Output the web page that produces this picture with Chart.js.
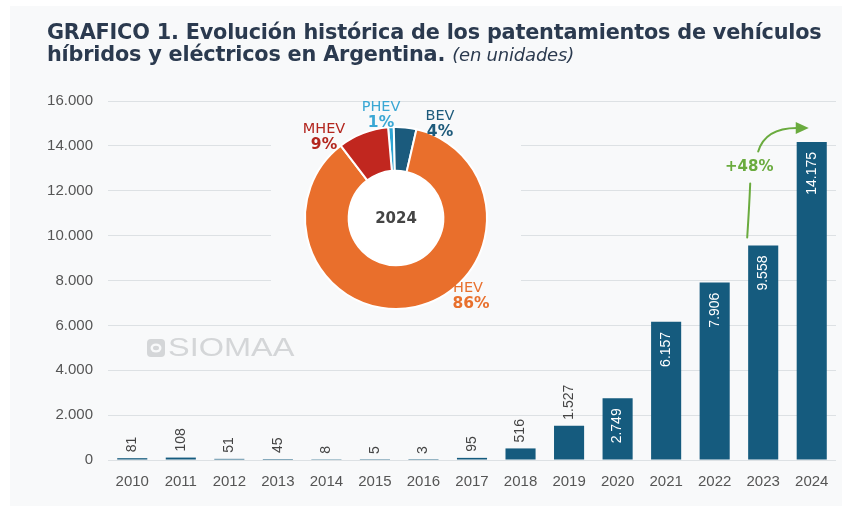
<!DOCTYPE html>
<html>
<head>
<meta charset="utf-8">
<script src="https://cdn.jsdelivr.net/npm/chart.js@4.4.1/dist/chart.umd.min.js"></script>
<style>
  html, body { margin: 0; padding: 0; background: #ffffff; }
  #wrap { position: relative; width: 844px; height: 512px; overflow: hidden; background: #ffffff; }
  #panel { position: absolute; left: 10px; top: 6px; width: 832px; height: 500px; background: #f8f9fa; }
  #title { position: absolute; left: 47px; top: 21px; font-family: "DejaVu Sans", Verdana, sans-serif; font-weight: bold;
           font-size: 20.8px; line-height: 22px; color: #2b3a4f; white-space: nowrap; letter-spacing: -0.2px; }
  #title i { font-weight: normal; font-size: 18px; }
  #bar { position: absolute; left: 0; top: 0; }
  #pie { position: absolute; left: 271px; top: 98px; }
</style>
</head>
<body>
<div id="wrap">
  <div id="panel"></div>
  <canvas id="bar" width="844" height="512"></canvas>
  <canvas id="pie" width="250" height="218"></canvas>
  <div id="title">GRAFICO 1. Evolución histórica de los patentamientos de vehículos<br>híbridos y eléctricos en Argentina. <i>(en unidades)</i></div>
</div>
<script>
// ---- data ----
const years = ["2010","2011","2012","2013","2014","2015","2016","2017","2018","2019","2020","2021","2022","2023","2024"];
const registrations = [81, 108, 51, 45, 8, 5, 3, 95, 516, 1527, 2749, 6157, 7906, 9558, 14175];
const yTicks = [0, 2000, 4000, 6000, 8000, 10000, 12000, 14000, 16000];
const mixLabels = ["PHEV", "BEV", "HEV", "MHEV"];
const mixShares = [1, 4, 86, 9];
const mixYear = "2024";
const growthLabel = "+48%";

const fmt = v => v.toLocaleString('de-DE');
const barColor = '#155b7e';

const barLabels = {
  id: 'barLabels',
  afterDatasetsDraw(chart) {
    const ctx = chart.ctx;
    const meta = chart.getDatasetMeta(0);
    ctx.save();
    ctx.font = '14px "Liberation Sans", Arial, sans-serif';
    ctx.textBaseline = 'middle';
    meta.data.forEach((el, i) => {
      const v = registrations[i];
      ctx.save();
      ctx.translate(el.x, el.y);
      ctx.rotate(-Math.PI / 2);
      if (v >= 2000) {
        ctx.fillStyle = '#ffffff';
        ctx.textAlign = 'right';
        ctx.fillText(fmt(v), -10, 0);
      } else {
        ctx.fillStyle = '#444444';
        ctx.textAlign = 'left';
        ctx.fillText(fmt(v), 6, 0);
      }
      ctx.restore();
    });
    ctx.restore();
  }
};

const watermark = {
  id: 'watermark',
  beforeDatasetsDraw(chart) {
    const ctx = chart.ctx;
    ctx.save();
    ctx.fillStyle = '#d4d6d8';
    const x = 147, y = 339, s = 18, r = 4;
    ctx.beginPath();
    ctx.moveTo(x + r, y); ctx.lineTo(x + s - r, y); ctx.quadraticCurveTo(x + s, y, x + s, y + r);
    ctx.lineTo(x + s, y + s - r); ctx.quadraticCurveTo(x + s, y + s, x + s - r, y + s);
    ctx.lineTo(x + r, y + s); ctx.quadraticCurveTo(x, y + s, x, y + s - r);
    ctx.lineTo(x, y + r); ctx.quadraticCurveTo(x, y, x + r, y);
    ctx.fill();
    ctx.fillStyle = '#f8f9fa';
    ctx.beginPath(); ctx.ellipse(x + 9, y + 9, 5.5, 4.5, 0, 0, Math.PI * 2); ctx.fill();
    ctx.fillStyle = '#d4d6d8';
    ctx.beginPath(); ctx.ellipse(x + 9, y + 9, 3, 2.2, 0, 0, Math.PI * 2); ctx.fill();
    ctx.font = '25px "Liberation Sans", Arial, sans-serif';
    ctx.textBaseline = 'middle';
    ctx.textAlign = 'left';
    ctx.translate(168, 349);
    ctx.scale(1.3, 1);
    ctx.fillText('SIOMAA', 0, 0);
    ctx.restore();
  }
};

const growthArrow = {
  id: 'growthArrow',
  afterDatasetsDraw(chart) {
    const ctx = chart.ctx;
    const meta = chart.getDatasetMeta(0);
    const a = meta.data[13], b = meta.data[14];
    const x0 = a.x - 16, y0 = a.y - 8;
    const tipX = b.x - 3, tipY = b.y - 14;
    const green = '#6aab3e';
    ctx.save();
    ctx.strokeStyle = green;
    ctx.fillStyle = green;
    ctx.lineWidth = 2;
    ctx.lineCap = 'round';
    ctx.beginPath();
    ctx.moveTo(x0, y0);
    ctx.quadraticCurveTo(x0 + 2, y0 - 30, x0 + 3, y0 - 54);
    ctx.stroke();
    ctx.font = 'bold 15px "DejaVu Sans", Verdana, sans-serif';
    ctx.textAlign = 'center';
    ctx.textBaseline = 'middle';
    ctx.fillText(growthLabel, x0 + 2, y0 - 70);
    ctx.beginPath();
    ctx.moveTo(x0 + 11, y0 - 86);
    ctx.quadraticCurveTo(x0 + 18, tipY, tipX - 12, tipY);
    ctx.stroke();
    ctx.beginPath();
    ctx.moveTo(tipX, tipY);
    ctx.lineTo(tipX - 13, tipY - 6);
    ctx.lineTo(tipX - 13, tipY + 6);
    ctx.closePath();
    ctx.fill();
    ctx.restore();
  }
};

new Chart(document.getElementById('bar'), {
  type: 'bar',
  data: {
    labels: years,
    datasets: [{ data: registrations, backgroundColor: barColor, barPercentage: 0.62, categoryPercentage: 1 }]
  },
  options: {
    responsive: false,
    animation: false,
    layout: { padding: { left: 0, right: 8, top: 101, bottom: 0 } },
    plugins: { legend: { display: false }, tooltip: { enabled: false } },
    scales: {
      x: {
        grid: { display: false },
        border: { display: false },
        ticks: { color: '#555', font: { size: 15, family: '"Liberation Sans", Arial, sans-serif' }, padding: 5, maxRotation: 0 },
        afterFit: s => { s.height = 52; }
      },
      y: {
        min: 0, max: 16000,
        afterBuildTicks: s => { s.ticks = yTicks.map(v => ({ value: v })); },
        grid: { color: '#dde1e4', lineWidth: 1, drawTicks: false },
        border: { display: false },
        ticks: { color: '#555', font: { size: 15, family: '"Liberation Sans", Arial, sans-serif' }, padding: 15, callback: v => fmt(v) },
        afterFit: s => { s.width = 108; }
      }
    }
  },
  plugins: [watermark, barLabels, growthArrow]
});

// ---- doughnut inset ----
const pieColors = ['#2ea5d4', '#1b5b7d', '#e96f2c', '#c1271f'];
const pieLabelPos = [
  { dx: -15, dy: -103 },
  { dx: 44, dy: -94 },
  { dx: 72, dy: 78 },
  { dx: -72, dy: -81 }
];
const pieDecor = {
  id: 'pieDecor',
  beforeDraw(chart) {
    const ctx = chart.ctx;
    ctx.save();
    ctx.fillStyle = '#f8f9fa';
    ctx.fillRect(0, 6, chart.width, chart.height - 6);
    ctx.restore();
  },
  beforeDatasetsDraw(chart) {
    const arc = chart.getDatasetMeta(0).data[0];
    const ctx = chart.ctx;
    ctx.save();
    ctx.fillStyle = '#ffffff';
    ctx.beginPath(); ctx.arc(arc.x, arc.y, arc.innerRadius + 1, 0, Math.PI * 2); ctx.fill();
    ctx.restore();
  },
  afterDatasetsDraw(chart) {
    const arc = chart.getDatasetMeta(0).data[0];
    const cx = arc.x, cy = arc.y;
    const ctx = chart.ctx;
    ctx.save();
    ctx.textAlign = 'center';
    ctx.textBaseline = 'middle';
    ctx.fillStyle = '#444';
    ctx.font = 'bold 15px "DejaVu Sans", Verdana, sans-serif';
    ctx.fillText(mixYear, cx, cy + 1);
    mixLabels.forEach((lab, i) => {
      const p = pieLabelPos[i];
      const col = i === 0 ? '#3aa7d4' : (i === 1 ? '#1d5a7b' : (i === 2 ? '#e8702d' : '#b3261e'));
      ctx.fillStyle = col;
      ctx.font = '14.5px "DejaVu Sans", Verdana, sans-serif';
      ctx.fillText(lab, cx + p.dx, cy + p.dy - 8);
      ctx.font = 'bold 15.5px "DejaVu Sans", Verdana, sans-serif';
      ctx.fillText(mixShares[i] + '%', cx + p.dx + (i === 2 ? 3 : 0), cy + p.dy + 8);
    });
    ctx.restore();
  }
};

new Chart(document.getElementById('pie'), {
  type: 'doughnut',
  data: {
    labels: mixLabels,
    datasets: [{ data: mixShares, backgroundColor: pieColors, borderColor: '#ffffff', borderWidth: 2 }]
  },
  options: {
    responsive: false,
    animation: false,
    cutout: '52%',
    rotation: -5,
    layout: { padding: { left: 33, right: 33, top: 28, bottom: 6 } },
    plugins: { legend: { display: false }, tooltip: { enabled: false } }
  },
  plugins: [pieDecor]
});
</script>
</body>
</html>
